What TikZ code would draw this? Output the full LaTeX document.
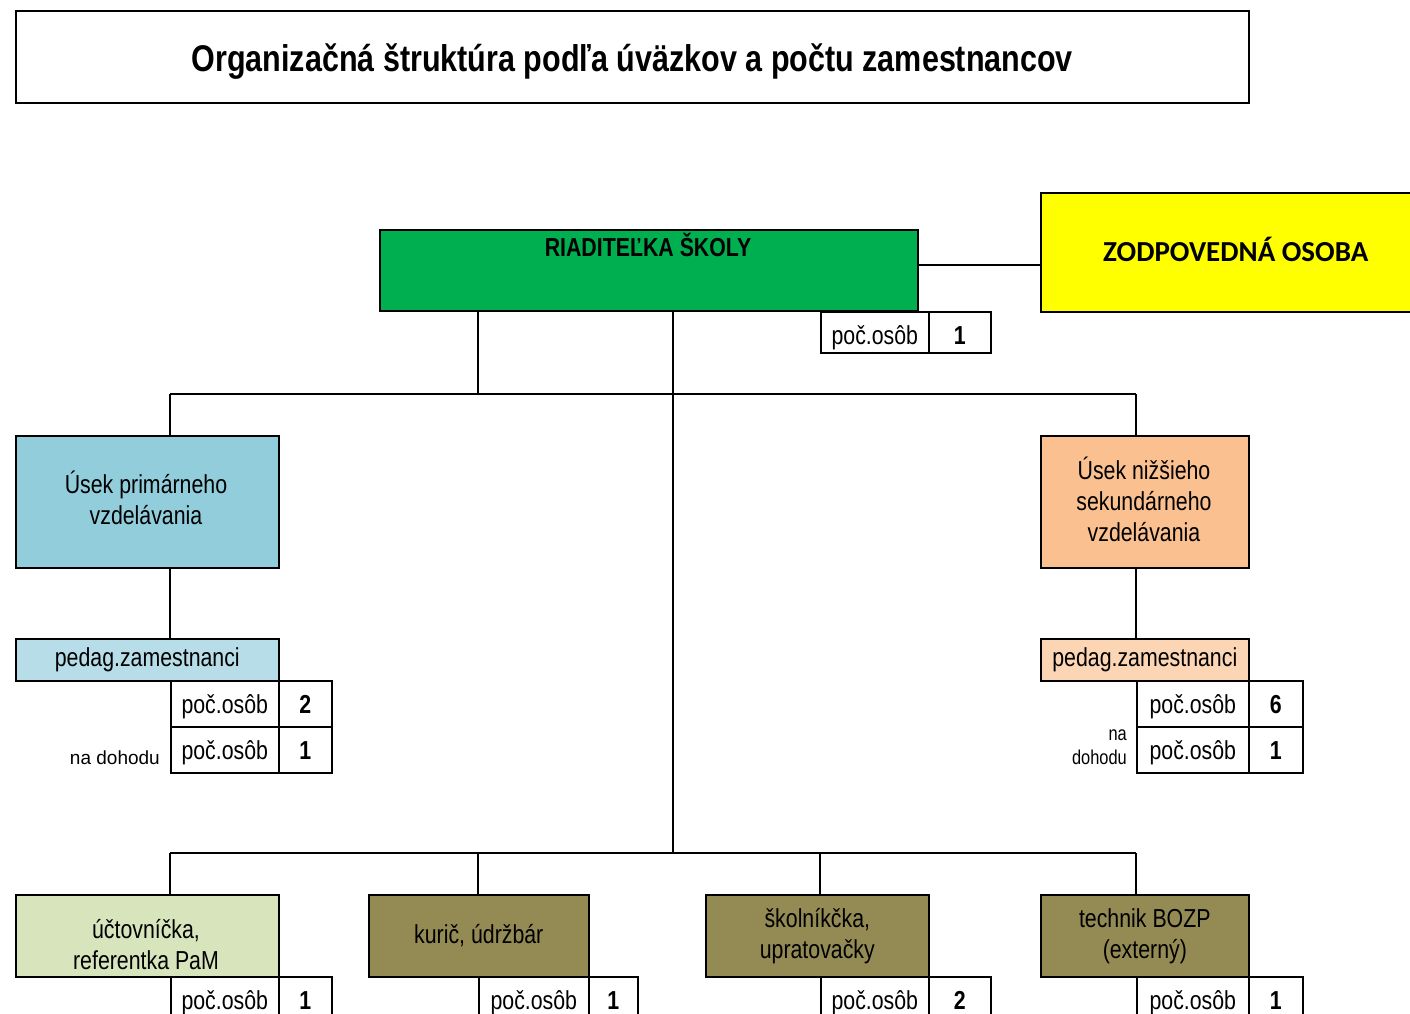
\documentclass[tikz,border=0pt]{standalone}
\usepackage{fontspec}
\setmainfont{Liberation Sans}[FakeStretch=0.82]
\newfontfamily\widefont{Liberation Sans}
\newfontfamily\calib{Carlito}
\definecolor{cgreen}{HTML}{00B050}
\definecolor{cyellow}{HTML}{FFFF00}
\definecolor{cblue}{HTML}{92CDDC}
\definecolor{clblue}{HTML}{B7DEE8}
\definecolor{corange}{HTML}{FAC090}
\definecolor{clorange}{HTML}{FCD5B4}
\definecolor{clgreen}{HTML}{D8E4BC}
\definecolor{colive}{HTML}{948A54}
\begin{document}
\begin{tikzpicture}[x=1pt,y=-1pt,
  box/.style={draw=black, line width=1.6pt, anchor=north west, inner sep=0pt, align=center,
    font=\fontsize{26}{31}\selectfont},
  cell/.style={draw=black, line width=1.6pt, anchor=north west, inner sep=0pt,
    text height=19pt, text depth=0pt, font=\fontsize{26}{31}\selectfont},
  num/.style={cell, font=\fontsize{26}{31}\selectfont\bfseries},
  conn/.style={draw=black, line width=1.6pt},
  note/.style={inner sep=0pt, align=right}]
\useasboundingbox (0,0) rectangle (1410,1014);
% title
\node[box, minimum width=1233, minimum height=92, text height=29pt, text depth=0pt,
  font=\fontsize{37.2}{44}\selectfont\bfseries] (title) at (15,10) {Organizačná štruktúra podľa úväzkov a počtu zamestnancov};
% director
\node[box, fill=cgreen, minimum width=538, minimum height=81] (dir) at (379,229) {};
\node[inner sep=0pt, font=\fontsize{26}{31}\selectfont\bfseries] (dirt) at (648,245) {RIADITEĽKA ŠKOLY};
\node[box, fill=cyellow, minimum width=390, minimum height=119, text height=19pt, text depth=0pt,
  font=\calib\fontsize{29}{34}\selectfont\bfseries] (zod) at (1040,192) {ZODPOVEDNÁ OSOBA};
\coordinate (zl) at (1000,265);
\draw[conn] (dir.east |- zl) -- (zod.west |- zl);
\node[cell, text height=25pt, minimum width=108, minimum height=41] (d1) at (820,311) {poč.osôb};
\node[num, text height=25pt, minimum width=62, minimum height=41] (d2) at (928,311) {1};
% junctions
\coordinate (ja) at (478,394);
\coordinate (jb) at (673,394);
\coordinate (jl) at (170,394);
\coordinate (jr) at (1136,394);
\coordinate (kb) at (673,853);
\coordinate (k1) at (170,853);
\coordinate (k2) at (478,853);
\coordinate (k3) at (820,853);
\coordinate (k4) at (1136,853);
% sections
\node[box, fill=cblue, minimum width=263, minimum height=132] (prim) at (15,435) {};
\node[inner sep=0pt, align=center, font=\fontsize{26}{31}\selectfont] (primt) at (146,498) {Úsek primárneho\\vzdelávania};
\node[box, fill=corange, minimum width=208, minimum height=132] (sek) at (1040,435) {};
\node[inner sep=0pt, align=center, font=\fontsize{26}{31}\selectfont] (sekt) at (1144,499) {Úsek nižšieho\\sekundárneho\\vzdelávania};
\node[box, fill=clblue, minimum width=263, minimum height=42] (pl) at (15,638) {pedag.zamestnanci};
\node[box, fill=clorange, minimum width=208, minimum height=42] (pr) at (1040,638) {pedag.zamestnanci};
% left tables
\node[cell, minimum width=108, minimum height=46] (l1) at (170,680) {poč.osôb};
\node[num, minimum width=53, minimum height=46] (l1n) at (278,680) {2};
\node[cell, minimum width=108, minimum height=46] (l2) at (170,726) {poč.osôb};
\node[num, minimum width=53, minimum height=46] (l2n) at (278,726) {1};
\node[note, anchor=east, font=\widefont\fontsize{19}{22}\selectfont] (ln) at (160,758) {na dohodu};
% right tables
\node[cell, minimum width=112, minimum height=46] (r1) at (1136,680) {poč.osôb};
\node[num, minimum width=54, minimum height=46] (r1n) at (1248,680) {6};
\node[cell, minimum width=112, minimum height=46] (r2) at (1136,726) {poč.osôb};
\node[num, minimum width=54, minimum height=46] (r2n) at (1248,726) {1};
\node[note, anchor=east, font=\fontsize{20}{24}\selectfont] (rn) at (1127,747) {na\\dohodu};
% bottom boxes
\node[box, fill=clgreen, minimum width=263, minimum height=82] (b1) at (15,894) {};
\node[inner sep=0pt, align=center, font=\fontsize{26}{31}\selectfont] (b1t) at (146,945) {účtovníčka,\\referentka PaM};
\node[box, fill=colive, minimum width=220, minimum height=82] (b2) at (368,894) {kurič, údržbár};
\node[box, fill=colive, minimum width=223, minimum height=82] (b3) at (705,894) {školníkčka,\\upratovačky};
\node[box, fill=colive, minimum width=208, minimum height=82] (b4) at (1040,894) {technik BOZP\\(externý)};
% bottom tables
\node[cell, minimum width=108, minimum height=46] (t1) at (170,976) {poč.osôb};
\node[num, minimum width=53, minimum height=46] (t1n) at (278,976) {1};
\node[cell, minimum width=110, minimum height=46] (t2) at (478,976) {poč.osôb};
\node[num, minimum width=49, minimum height=46] (t2n) at (588,976) {1};
\node[cell, minimum width=108, minimum height=46] (t3) at (820,976) {poč.osôb};
\node[num, minimum width=62, minimum height=46] (t3n) at (928,976) {2};
\node[cell, minimum width=112, minimum height=46] (t4) at (1136,976) {poč.osôb};
\node[num, minimum width=54, minimum height=46] (t4n) at (1248,976) {1};
% connectors
\draw[conn] (dir.south -| ja) -- (ja);
\draw[conn] (dir.south -| jb) -- (kb);
\draw[conn] (jl) -- (jr);
\draw[conn] (jl) -- (prim.north -| jl);
\draw[conn] (jr) -- (sek.north -| jr);
\draw[conn] (prim.south -| jl) -- (pl.north -| jl);
\draw[conn] (sek.south -| jr) -- (pr.north -| jr);
\draw[conn] (k1) -- (k4);
\draw[conn] (k1) -- (b1.north -| k1);
\draw[conn] (k2) -- (b2.north -| k2);
\draw[conn] (k3) -- (b3.north -| k3);
\draw[conn] (k4) -- (b4.north -| k4);
\end{tikzpicture}
\end{document}
